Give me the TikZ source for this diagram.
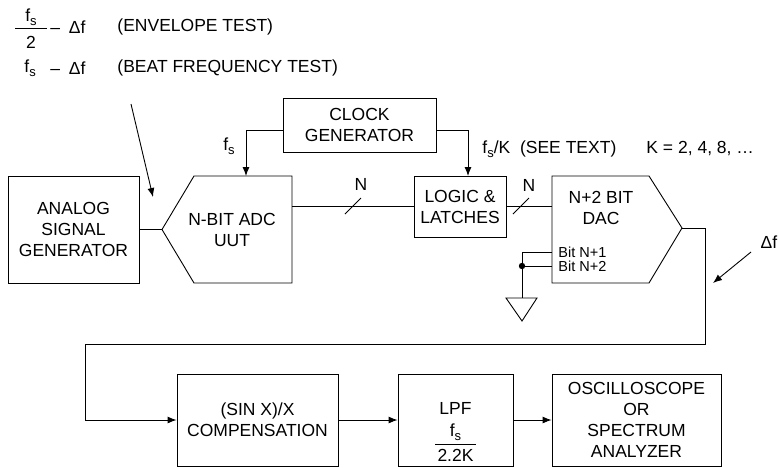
\documentclass[tikz,border=0pt]{standalone}
\usepackage{fontspec}
\setmainfont{Liberation Sans}
\usetikzlibrary{arrows.meta,positioning,calc}
\newcommand{\fsub}{f\raisebox{-4.5pt}{\fontsize{13}{13}\selectfont s}}

\begin{document}
\begin{tikzpicture}[x=1pt,y=-1pt,>={Latex[length=9pt,width=7pt]},line width=0.9pt,every node/.style={font=\fontsize{17.5}{21}\selectfont,inner sep=0pt}]
\tikzset{block/.style={draw,align=center},txt/.style={align=center},lefttxt/.style={anchor=west},small/.style={font=\fontsize{14.5}{17}\selectfont,anchor=west}}
\useasboundingbox (0,0) rectangle (779,467);
% test signals
\node (numfs) at (31,17) {\fsub};
\coordinate (barl) at (15,28);
\coordinate (barr) at (47,28);
\draw (barl) -- (barr);
\node (dentwo) at (31,42) {2};
\node[lefttxt] (envdf) at (50,27) {–\enspace Δf};
\node[lefttxt] (envtest) at (117,27) {(ENVELOPE TEST)};
\node[lefttxt] (beatfs) at (24,68) {\fsub};
\node[lefttxt] (beatdf) at (50,68) {–\enspace Δf};
\node[lefttxt] (beattest) at (117,68) {(BEAT FREQUENCY TEST)};
\coordinate (testarr) at (131,104);
\coordinate (adcinarr) at (153,197);
\draw[->] (testarr) -- (adcinarr);
% top row
\node[block,minimum width=131,minimum height=107] (analog) at (73.5,229.5) {ANALOG\\SIGNAL\\GENERATOR};
\draw (162,229.5) coordinate (adcin) -- (194,176) -- (292,176) coordinate (adctr) -- (292,283) -- (194,283) -- cycle;
\node[txt] (adc) at (232,229.5) {N-BIT ADC\\UUT};
\coordinate (adcout) at (292,206.5);
\coordinate (adcclk) at (246,176);
\node[block,minimum width=153,minimum height=54] (clock) at (359.5,125) {CLOCK\\GENERATOR};
\node[block,minimum width=92,minimum height=61] (logic) at (460,206.5) {LOGIC \&\\LATCHES};
\coordinate (logicclk) at (468,176);
\draw (552,176) coordinate (dactl) -- (649,176) -- (682,228) coordinate (dacout) -- (649,283) -- (552,283) -- cycle;
\node[txt] (dac) at (601,208) {N+2 BIT\\DAC};
\coordinate (dacin) at (552,206.5);
\coordinate (bitone) at (552,252);
\coordinate (bittwo) at (552,266);
\node[small] (bitonetxt) at (558,252) {Bit N+1};
\node[small] (bittwotxt) at (558,266) {Bit N+2};
\draw (analog.east) -- (adcin);
\draw[->] ([yshift=-5pt]clock.west) -| (adcclk);
\draw[->] ([yshift=-5pt]clock.east) -| (logicclk);
\node (fsclk) at (229,146) {\fsub};
\node[lefttxt] (fsk) at (482,149) {\fsub/K \ (SEE TEXT)};
\node[lefttxt] (kval) at (646,149) {K = 2, 4, 8, …};
\draw (adcout) -- (logic.west);
\draw (logic.east) -- (dacin);
\draw (345,214) -- (361,198);
\draw (513,214) -- (529,198);
\node (nadc) at (361,184) {N};
\node (nlogic) at (529,185) {N};
% grounded bits
\coordinate (gnd) at (522,298);
\draw (bitone) -| (gnd);
\draw (bittwo) -- (522,266);
\fill (522,266) circle (3.2pt);
\draw (gnd) -- (506,298) -- (522,321) -- (537,298) -- cycle;
% bottom row
\node[block,minimum width=161,minimum height=92] (comp) at (257.5,420) {(SIN X)/X\\COMPENSATION};
\node[block,minimum width=115,minimum height=92] (lpf) at (455.5,420) {};
\node (lpftxt) at (455.5,408) {LPF};
\node (lpffs) at (455.5,432) {\fsub};
\draw (435,444) -- (476,444);
\node (lpfk) at (455.5,455) {2.2K};
\node[block,minimum width=169,minimum height=92] (osc) at (636.5,420) {OSCILLOSCOPE\\OR\\SPECTRUM\\ANALYZER};
\draw[->] (dacout) -- (705,228) -- (705,344) -- (85,344) |- (comp.west);
\draw[->] (comp.east) -- (lpf.west);
\draw[->] (lpf.east) -- (osc.west);
\node (df) at (769,242) {Δf};
\coordinate (dfa) at (751,252);
\coordinate (dfb) at (713,283);
\draw[->] (dfa) -- (dfb);
\end{tikzpicture}
\end{document}
